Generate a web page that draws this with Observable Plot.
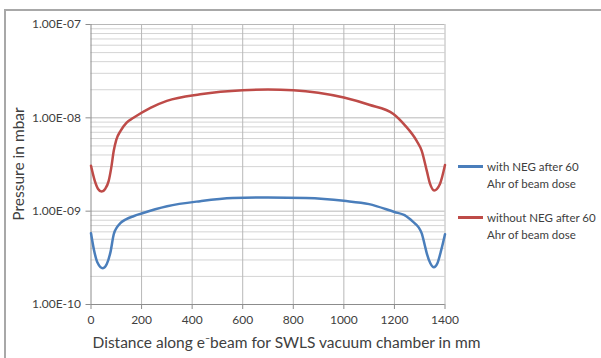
<!DOCTYPE html>
<html><head><meta charset="utf-8">
<script src="https://cdn.jsdelivr.net/npm/d3@7"></script>
<script src="https://cdn.jsdelivr.net/npm/@observablehq/plot@0.6"></script>
<style>
body{margin:0;background:#fff;}
#wrap{position:relative;width:601px;height:358px;overflow:hidden;font-family:Lato,"Open Sans",sans-serif;color:#404040;}
#frame{position:absolute;left:4px;top:9px;width:620px;height:380px;border-left:2px solid #a8a8a8;border-top:2px solid #a8a8a8;box-sizing:border-box;}
#chart{position:absolute;left:0;top:0;}
.txt{position:absolute;white-space:nowrap;color:#404040;}
.legline{position:absolute;height:3px;width:25px;}
.legtxt{position:absolute;font-size:11.5px;line-height:17px;color:#404040;white-space:nowrap;}
</style>
</head><body>
<div id="wrap">
  <div id="frame"></div>
  <div id="chart"></div>
</div>
<script>
// ---- data ----
const xWith = [0, 12, 25, 47, 62, 77, 90, 103, 116, 140, 168, 200, 301, 432, 560, 700, 850, 1000, 1100, 1200, 1240, 1274, 1295, 1308, 1320, 1328, 1342, 1356, 1370, 1385, 1400];
const pWith = [5.81e-10, 3.82e-10, 2.84e-10, 2.45e-10, 2.70e-10, 3.64e-10, 5.66e-10, 6.74e-10, 7.43e-10, 8.21e-10, 8.83e-10, 9.45e-10, 1.13e-9, 1.28e-9, 1.38e-9, 1.40e-9, 1.38e-9, 1.29e-9, 1.19e-9, 9.8e-10, 9.06e-10, 7.67e-10, 6.74e-10, 5.77e-10, 4.32e-10, 3.53e-10, 2.77e-10, 2.51e-10, 2.77e-10, 3.82e-10, 5.66e-10];
const xWithout = [0, 15, 28, 42, 56, 70, 80, 90, 100, 117, 140, 168, 235, 300, 432, 600, 700, 800, 1000, 1100, 1196, 1240, 1288, 1308, 1328, 1341, 1357, 1380, 1400];
const pWithout = [3.06e-9, 2.11e-9, 1.73e-9, 1.62e-9, 1.73e-9, 2.11e-9, 2.91e-9, 4.43e-9, 5.81e-9, 7.26e-9, 8.84e-9, 1.0e-8, 1.28e-8, 1.52e-8, 1.79e-8, 1.98e-8, 2.01e-8, 1.98e-8, 1.65e-8, 1.38e-8, 1.10e-8, 8.41e-9, 5.66e-9, 4.43e-9, 2.70e-9, 1.96e-9, 1.67e-9, 1.96e-9, 3.13e-9];
const seriesNames = ["with NEG after 60 Ahr of beam dose", "without NEG after 60 Ahr of beam dose"];
const xTicks = [0, 200, 400, 600, 800, 1000, 1200, 1400];
const yTicks = [1e-10, 1e-9, 1e-8, 1e-7];
const yTickLabels = ["1.00E-10", "1.00E-09", "1.00E-08", "1.00E-07"];
const yMinor = [2e-10,3e-10,4e-10,5e-10,6e-10,7e-10,8e-10,9e-10,
                2e-9,3e-9,4e-9,5e-9,6e-9,7e-9,8e-9,9e-9,
                2e-8,3e-8,4e-8,5e-8,6e-8,7e-8,8e-8,9e-8];
const xTitle = "Distance along e\u207Bbeam for SWLS vacuum chamber in mm";
const yTitle = "Pressure in mbar";
const colors = ["#4a7ebb", "#be4b48"];

const withData = xWith.map((x, i) => ({x, p: pWith[i], s: seriesNames[0]}));
const withoutData = xWithout.map((x, i) => ({x, p: pWithout[i], s: seriesNames[1]}));

const chart = Plot.plot({
  width: 601, height: 358,
  marginLeft: 90.5, marginRight: 156.5, marginTop: 24, marginBottom: 54,
  style: {fontFamily: "Lato, 'Open Sans', sans-serif", fontSize: "12px", color: "#404040", background: "transparent"},
  x: {type: "linear", domain: [0, 1400]},
  y: {type: "log", domain: [1e-10, 1e-7]},
  color: {domain: seriesNames, range: colors},
  marks: [
    Plot.ruleY(yMinor, {stroke: "#d4d4d4", strokeWidth: 1}),
    Plot.ruleY(yTicks, {stroke: "#b8b8b8", strokeWidth: 1}),
    Plot.ruleX(xTicks.slice(1), {stroke: "#b8b8b8", strokeWidth: 1}),
    Plot.ruleX([0], {stroke: "#8c8c8c", strokeWidth: 1}),
    Plot.ruleY([1e-10], {stroke: "#8c8c8c", strokeWidth: 1}),
    Plot.axisX({ticks: xTicks, tickSize: 5, tickPadding: 6, stroke: "#8c8c8c", fill: "#404040", fontSize: 12, label: null, tickFormat: d => String(d)}),
    Plot.axisY({ticks: yTicks, tickSize: 5, tickPadding: 5, stroke: "#8c8c8c", fill: "#404040", fontSize: 12, label: null, tickFormat: d => yTickLabels[yTicks.indexOf(d)]}),
    Plot.line(withData, {x: "x", y: "p", stroke: "s", strokeWidth: 2.5, curve: "monotone-x"}),
    Plot.line(withoutData, {x: "x", y: "p", stroke: "s", strokeWidth: 2.5, curve: "monotone-x"})
  ]
});
document.getElementById("chart").appendChild(chart);

const wrap = document.getElementById("wrap");
function addText(t, css) {
  const d = document.createElement("div");
  d.className = "txt";
  d.textContent = t;
  Object.assign(d.style, css);
  wrap.appendChild(d);
  return d;
}
// axis titles
addText(xTitle, {fontSize: "15.5px", left: "0px", top: "333px", width: "573px", textAlign: "center"});
addText(yTitle, {fontSize: "15.5px", left: "18px", top: "164px", transform: "translate(-50%,-50%) rotate(-90deg)"});
// legend
const legendRows = [
  {lines: ["with NEG after 60", "Ahr of beam dose"], color: colors[0], y: 166},
  {lines: ["without NEG after 60", "Ahr of beam dose"], color: colors[1], y: 217.5}
];
legendRows.forEach(r => {
  const l = document.createElement("div");
  l.className = "legline";
  Object.assign(l.style, {left: "458px", top: (r.y - 1.5) + "px", background: r.color});
  wrap.appendChild(l);
  const t = document.createElement("div");
  t.className = "legtxt";
  t.innerHTML = r.lines.join("<br>");
  Object.assign(t.style, {left: "487px", top: (r.y - 8.5) + "px"});
  wrap.appendChild(t);
});
</script>
</body></html>
